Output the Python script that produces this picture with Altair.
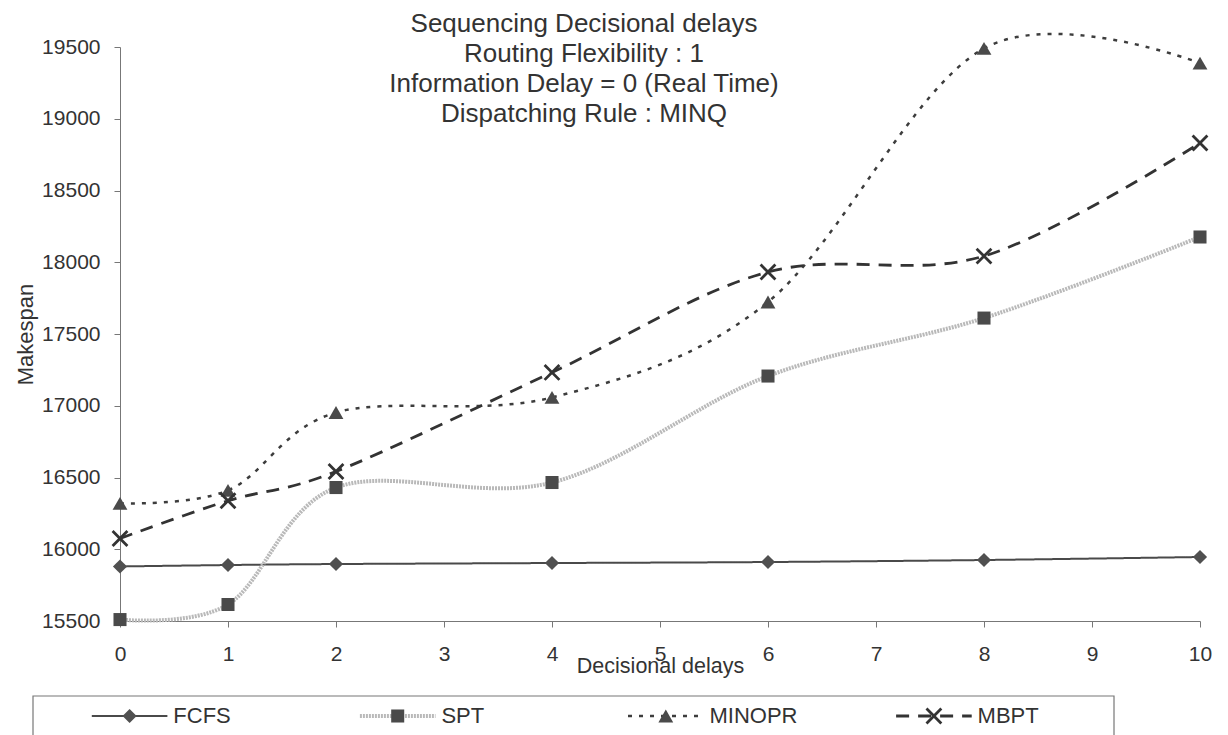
import altair as alt
import pandas as pd

# ---------------- data ----------------
delays = [0, 1, 2, 4, 6, 8, 10]
fcfs = [15880, 15890, 15897, 15904, 15911, 15925, 15946]
spt = [15510, 15615, 16430, 16465, 17207, 17611, 18176]
minopr = [16320, 16410, 16953, 17058, 17723, 19490, 19388]
mbpt = [16075, 16338, 16542, 17232, 17932, 18043, 18831]
series_names = ["FCFS", "SPT", "MINOPR", "MBPT"]
title_lines = [
    "Sequencing Decisional delays",
    "Routing Flexibility : 1",
    "Information Delay = 0 (Real Time)",
    "Dispatching Rule : MINQ",
]
x_ticks = list(range(0, 11))
y_ticks = [15500, 16000, 16500, 17000, 17500, 18000, 18500, 19000, 19500]

# ---------------- styling ----------------
FONT = "Liberation Sans"
TXT = "#333333"
X_PATH = "M-1,-1L1,1M-1,1L1,-1"
styles = {
    "FCFS": dict(color="#4a4a4a", width=2, dash=[1, 0], shape="diamond", size=200, filled=True, mcolor="#505050"),
    "SPT": dict(color="#b9b9b9", width=4, dash=[2, 1], shape="square", size=170, filled=True, mcolor="#4a4a4a"),
    "MINOPR": dict(color="#3d3d3d", width=2.5, dash=[4, 7], shape="triangle-up", size=220, filled=True, mcolor="#4a4a4a"),
    "MBPT": dict(color="#333333", width=2.8, dash=[13, 9], shape=X_PATH, size=220, filled=False, mcolor="#333333"),
}

values = {"FCFS": fcfs, "SPT": spt, "MINOPR": minopr, "MBPT": mbpt}
rows = []
for name in series_names:
    for d, v in zip(delays, values[name]):
        rows.append({"series": name, "delay": d, "makespan": v})
df = pd.DataFrame(rows)

x_enc = alt.X(
    "delay:Q",
    scale=alt.Scale(domain=[0, 10], nice=False),
    axis=alt.Axis(
        values=x_ticks, title="Decisional delays", grid=False,
        tickSize=6, tickColor="#777", domainColor="#777",
        labelFontSize=21, labelFont=FONT, labelColor=TXT, labelPadding=16,
        titleFontSize=21.5, titleFont=FONT, titleColor=TXT, titleFontWeight="normal",
        titleY=34, titleBaseline="top", labelFlush=False,
    ),
)
y_enc = alt.Y(
    "makespan:Q",
    scale=alt.Scale(domain=[15500, 19500], nice=False, zero=False),
    axis=alt.Axis(
        values=y_ticks, title="Makespan", grid=False, format="d",
        tickSize=6, tickColor="#777", domainColor="#777",
        labelFontSize=21, labelFont=FONT, labelColor=TXT, labelPadding=14,
        titleFontSize=22, titleFont=FONT, titleColor=TXT, titleFontWeight="normal",
        titlePadding=4, labelFlush=False,
    ),
)

layers = []
for name in series_names:
    s = styles[name]
    base = alt.Chart(df).transform_filter(alt.datum.series == name)
    layers.append(
        base.mark_line(
            interpolate="cardinal", tension=0, color=s["color"],
            strokeWidth=s["width"], strokeDash=s["dash"],
        ).encode(x=x_enc, y=y_enc)
    )
for name in series_names:
    s = styles[name]
    base = alt.Chart(df).transform_filter(alt.datum.series == name)
    if s["filled"]:
        pt = base.mark_point(shape=s["shape"], size=s["size"], filled=True,
                             color=s["mcolor"], opacity=1)
    else:
        pt = base.mark_point(shape=s["shape"], size=s["size"], filled=False,
                             color=s["mcolor"], strokeWidth=2.8, opacity=1)
    layers.append(pt.encode(x=x_enc, y=y_enc))

title_layer = alt.Chart(alt.Data(values=[{}])).mark_text(
    text=title_lines, font=FONT, fontSize=26, lineHeight=30,
    align="center", baseline="alphabetic", color=TXT,
).encode(x=alt.value(464), y=alt.value(-15))
layers.append(title_layer)

main = alt.layer(*layers).properties(width=1080, height=574)

# ---------------- legend panel (boxed, below the plot) ----------------
leg_df = pd.DataFrame({"series": series_names, "slot": list(range(4)), "row": ["r"] * 4})
LEG_W = 994
lx_scale = alt.Scale(domain=[-0.0358, 3.6717], nice=False)
ly = alt.Y("row:N", axis=None)

leg_layers = [
    alt.Chart(alt.Data(values=[{}])).mark_rect(
        filled=False, stroke="#777777", strokeWidth=1.2
    ).encode(x=alt.X(datum=-0.3603, scale=lx_scale, axis=None), x2=alt.datum(3.6717))
]
for name in series_names:
    s = styles[name]
    b = alt.Chart(leg_df).transform_filter(alt.datum.series == name)
    leg_layers.append(
        b.transform_calculate(xa="datum.slot - 0.141", xb="datum.slot + 0.141")
        .mark_rule(color=s["color"], strokeWidth=s["width"], strokeDash=s["dash"])
        .encode(x=alt.X("xa:Q", scale=lx_scale, axis=None), x2="xb:Q", y=ly)
    )
    if s["filled"]:
        pm = b.mark_point(shape=s["shape"], size=s["size"], filled=True, color=s["mcolor"], opacity=1)
    else:
        pm = b.mark_point(shape=s["shape"], size=s["size"], filled=False, color=s["mcolor"],
                          strokeWidth=2.8, opacity=1)
    leg_layers.append(pm.encode(x=alt.X("slot:Q", scale=lx_scale, axis=None), y=ly))
    leg_layers.append(
        b.transform_calculate(xt="datum.slot + 0.163")
        .mark_text(align="left", baseline="middle", font=FONT, fontSize=22, color=TXT)
        .encode(x=alt.X("xt:Q", scale=lx_scale, axis=None), y=ly, text="series:N")
    )
legend_panel = alt.layer(*leg_layers).properties(width=LEG_W, height=40)

chart = alt.vconcat(main, legend_panel, spacing=17).properties(
    padding={"left": 14, "top": 10, "right": 0, "bottom": 0},
    background="white",
).configure_view(stroke="transparent")

chart.save("out.html", embed_options={"renderer": "svg", "actions": False})
